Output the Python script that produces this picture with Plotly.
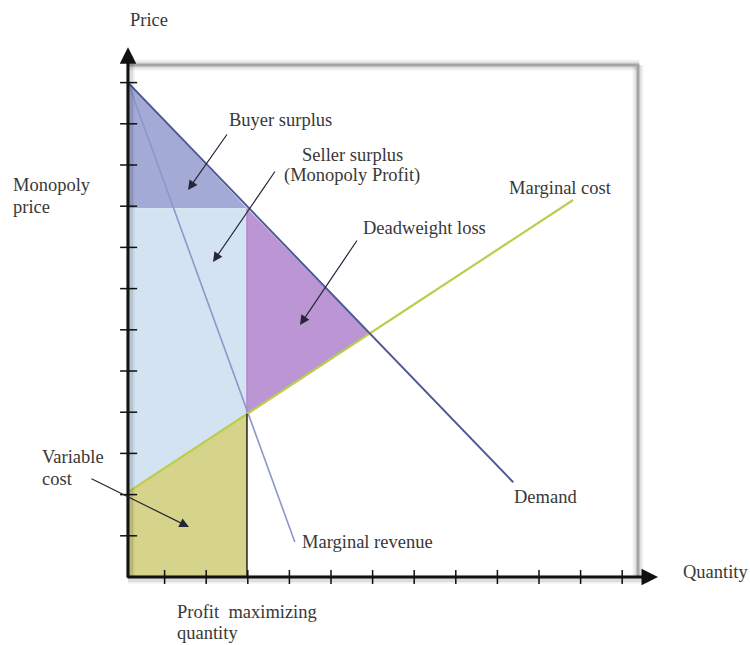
import plotly.graph_objects as go

# values (x = quantity units, y = price units)
q_axis = 0.12                      # where the price axis crosses
q_demand = [0.12, 9.38]
p_demand = [12.0, 2.3]
q_mr = [0.12, 4.13]
p_mr = [12.0, 0.85]
q_mc = [0.12, 10.82]
p_mc = [2.06, 9.15]
q_star = 2.98                      # profit maximizing quantity
p_monopoly = 8.95                  # monopoly price
mc_at_q_star = 3.96
q_eff, p_eff = 5.92, 5.91          # demand meets marginal cost
x_ticks = list(range(1, 13))
y_ticks = list(range(1, 13))
axis_tip = 12.86
frame_q, frame_p = 12.38, 12.43

# pixel <-> data helpers (figure is 750x645, plot fills it)
X0, XU, Y0, YU = 123, 41.6, 577, 41.2
def qx(px):
    return (px - X0) / XU
def py(pxy):
    return (Y0 - pxy) / YU

font = dict(family="Liberation Serif, Times New Roman, serif", size=18.5, color="#383838")

fig = go.Figure()

def area(q, p, color):
    fig.add_trace(go.Scatter(x=q, y=p, fill="toself", fillcolor=color, mode="lines",
                             line=dict(width=0), hoverinfo="skip", showlegend=False))

area([q_demand[0], q_star, q_axis], [p_demand[0], p_monopoly, p_monopoly], "#a3aad6")
area([q_axis, q_star, q_star, q_axis], [p_monopoly, p_monopoly, mc_at_q_star, p_mc[0]], "#d4e3f2")
area([q_star, q_eff, q_star], [p_monopoly, p_eff, mc_at_q_star], "#bc95d4")
area([q_axis, q_star, q_star, q_axis], [0, 0, mc_at_q_star, p_mc[0]], "#d6d48b")

# edge of the deadweight loss triangle
fig.add_trace(go.Scatter(x=[q_star, q_star], y=[mc_at_q_star, p_monopoly], mode="lines",
                         line=dict(color="#b08acb", width=1.5), hoverinfo="skip", showlegend=False))

# curves
fig.add_trace(go.Scatter(x=q_mr, y=p_mr, mode="lines", line=dict(color="#8e96c8", width=1.6),
                         hoverinfo="skip", showlegend=False))
fig.add_trace(go.Scatter(x=q_mc, y=p_mc, mode="lines", line=dict(color="#bccd4e", width=2.2),
                         hoverinfo="skip", showlegend=False))
fig.add_trace(go.Scatter(x=q_demand, y=p_demand, mode="lines", line=dict(color="#4b5895", width=2),
                         hoverinfo="skip", showlegend=False))
fig.add_trace(go.Scatter(x=[q_star, q_star], y=[0, mc_at_q_star], mode="lines",
                         line=dict(color="#222222", width=1.5), hoverinfo="skip", showlegend=False))

# tick marks
tx, ty = [], []
for t in x_ticks:
    tx += [t, t, None]
    ty += [-0.17, 0.17, None]
for t in y_ticks:
    tx += [q_axis - 0.19, q_axis + 0.22, None]
    ty += [t, t, None]
fig.add_trace(go.Scatter(x=tx, y=ty, mode="lines", line=dict(color="#111111", width=1.5),
                         hoverinfo="skip", showlegend=False))

# frame with soft shadow
for w, c in [(11, "rgba(0,0,0,0.05)"), (7, "rgba(0,0,0,0.08)"), (3, "#a4a4a4")]:
    fig.add_shape(type="line", x0=q_axis, y0=frame_p, x1=frame_q + 0.03, y1=frame_p,
                  line=dict(color=c, width=w), layer="below")
    fig.add_shape(type="line", x0=frame_q, y0=frame_p, x1=frame_q, y1=0,
                  line=dict(color=c, width=w), layer="below")

# axis shadows
for w, c in [(9, "rgba(0,0,0,0.06)"), (6, "rgba(0,0,0,0.08)")]:
    fig.add_shape(type="line", x0=q_axis, y0=-0.05, x1=axis_tip - 0.2, y1=-0.05, line=dict(color=c, width=w))
    fig.add_shape(type="line", x0=q_axis + 0.05, y0=0, x1=q_axis + 0.05, y1=axis_tip - 0.2, line=dict(color=c, width=w))

annotations = []
# axes with arrow heads
annotations.append(dict(x=axis_tip, y=0, ax=q_axis - 0.05, ay=0, xref="x", yref="y", axref="x", ayref="y",
                        text="", showarrow=True, arrowhead=2, arrowsize=1.1, arrowwidth=3, arrowcolor="#111111",
                        standoff=0, startstandoff=0))
annotations.append(dict(x=q_axis, y=axis_tip, ax=q_axis, ay=-0.05, xref="x", yref="y", axref="x", ayref="y",
                        text="", showarrow=True, arrowhead=2, arrowsize=1.1, arrowwidth=3, arrowcolor="#111111",
                        standoff=0, startstandoff=0))

# pointer arrows: (tail px, head px)
pointers = [((228, 133), (188, 190)),
            ((276, 170), (213, 262)),
            ((358, 239), (300, 325)),
            ((90, 478), (189, 527))]
for (tx0, ty0), (hx, hy) in pointers:
    annotations.append(dict(x=qx(hx), y=py(hy), ax=qx(tx0), ay=py(ty0), xref="x", yref="y", axref="x", ayref="y",
                            text="", showarrow=True, arrowhead=2, arrowsize=1.6, arrowwidth=1.2,
                            arrowcolor="#262638", standoff=0))

# labels: text, anchor px, centre px, anchor side
labels = [("Price", 129, 20, "left"),
          ("Buyer surplus", 228, 120, "left"),
          ("Seller surplus", 352, 155, "center"),
          ("(Monopoly Profit)", 352, 175, "center"),
          ("Monopoly", 12, 185, "left"),
          ("price", 12, 207, "left"),
          ("Marginal cost", 508, 188, "left"),
          ("Deadweight loss", 362, 228, "left"),
          ("Variable", 41, 457, "left"),
          ("cost", 41, 479, "left"),
          ("Demand", 513, 497, "left"),
          ("Marginal revenue", 301, 542, "left"),
          ("Quantity", 682, 572, "left"),
          ("Profit&nbsp;&nbsp;maximizing", 176, 612, "left"),
          ("quantity", 176, 633, "left")]
for txt, lx, ly, side in labels:
    annotations.append(dict(x=qx(lx), y=py(ly), xref="x", yref="y", text=txt, showarrow=False,
                            xanchor=side, yanchor="middle", font=font, borderpad=0))

fig.update_layout(
    width=750, height=645,
    margin=dict(l=0, r=0, t=0, b=0),
    paper_bgcolor="white", plot_bgcolor="white",
    xaxis=dict(range=[qx(0), qx(750)], visible=False, fixedrange=True),
    yaxis=dict(range=[py(645), py(0)], visible=False, fixedrange=True),
    annotations=annotations,
    showlegend=False,
)

fig.write_html("out.html", config={"displayModeBar": False},
               post_script="document.body.style.margin='0';")
